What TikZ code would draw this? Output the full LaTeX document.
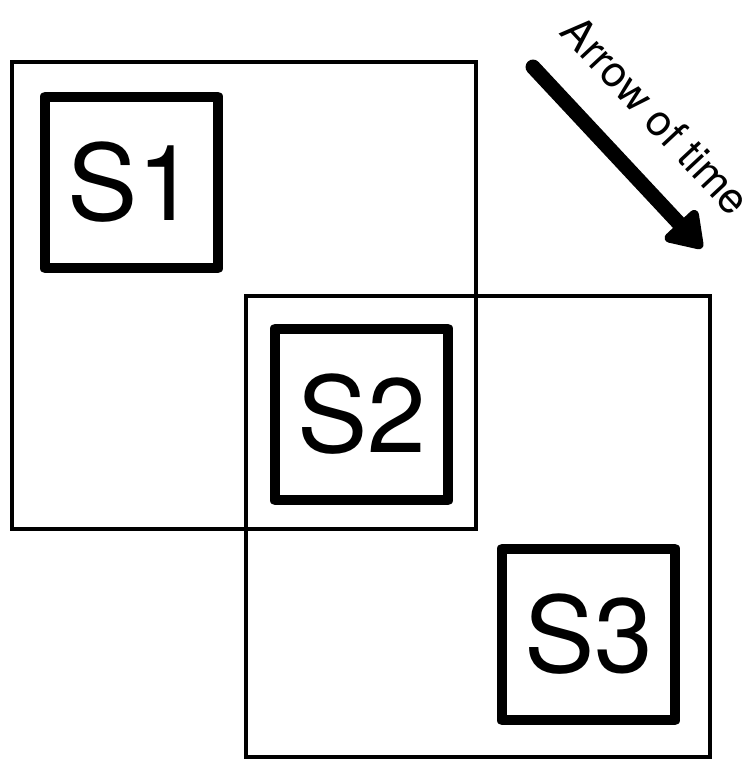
\documentclass[tikz,border=0pt]{standalone}
\usepackage{fontspec}
\setmainfont{TeX Gyre Heros}
\usetikzlibrary{arrows.meta}
\tikzset{
  window/.style={draw, line width=2.5pt},
  statebox/.style={draw, line width=5.7pt, line join=round, minimum width=3.46cm,
    minimum height=3.44cm, inner sep=0pt, font=\fontsize{60}{60}\selectfont},
  timearrow/.style={line width=8.5pt, line cap=round,
    -{Triangle[length=22pt, width=28pt, round]}},
}

\begin{document}
\begin{tikzpicture}[x=0.02cm, y=-0.02cm]
  \useasboundingbox (0,0) rectangle (747,764);

  % Overlapping windows
  \draw[window] (12,62) rectangle (476,529);
  \draw[window] (246,296) rectangle (710,757);

  % States
  \node[statebox] (s1) at (131.5,182.5) {S1};
  \node[statebox] (s2) at (361.5,414.5) {S2};
  \node[statebox] (s3) at (588.5,634.5) {S3};

  % Arrow of time
  \coordinate (tstart) at (533,67);
  \coordinate (tend) at (702,248);
  \draw[timearrow] (tstart) -- (tend);
  \node[rotate=-47, font=\fontsize{24.5}{24.5}\selectfont] (tlabel) at (656,115) {Arrow of time};
\end{tikzpicture}
\end{document}
